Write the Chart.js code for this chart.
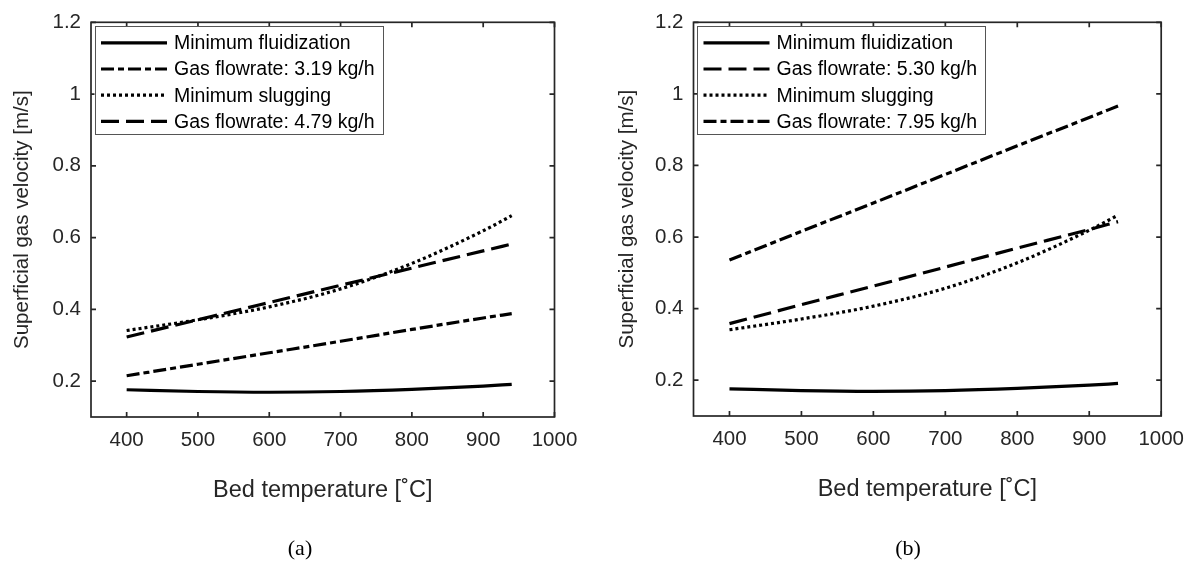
<!DOCTYPE html>
<html><head><meta charset="utf-8">
<script src="https://cdn.jsdelivr.net/npm/chart.js@4.4.1/dist/chart.umd.min.js"></script>
<style>
html,body{margin:0;padding:0;background:#fff;}
#wrap{position:relative;width:1195px;height:569px;overflow:hidden;background:#fff;}
canvas{position:absolute;top:0;}
.cap{position:absolute;font-family:"Liberation Serif","Times New Roman",serif;font-size:22px;color:#000;transform:translateX(-50%);line-height:24px;}
</style></head><body>
<div id="wrap">
<canvas id="c1" width="600" height="569" style="left:0"></canvas>
<canvas id="c2" width="595" height="569" style="left:600px"></canvas>
<div class="cap" style="left:300px;top:536px">(a)</div>
<div class="cap" style="left:908px;top:536px">(b)</div>
</div>
<script>
// ---- data ----
const temps = [400, 500, 600, 700, 800, 900, 940];
const minFluid = [0.176, 0.171, 0.169, 0.171, 0.177, 0.186, 0.191];
const minSlug = [0.341, 0.371, 0.407, 0.457, 0.528, 0.619, 0.661];
const gas319 = [0.215, 0.247, 0.279, 0.311, 0.344, 0.376, 0.388];
const gas479 = [0.323, 0.371, 0.419, 0.467, 0.515, 0.563, 0.582];
const gas530 = [0.358, 0.411, 0.463, 0.516, 0.569, 0.621, 0.643];
const gas795 = [0.536, 0.616, 0.695, 0.775, 0.855, 0.934, 0.966];
const xTicks = [400, 500, 600, 700, 800, 900, 1000];
const yTicks = [0.2, 0.4, 0.6, 0.8, 1.0, 1.2];
const labelsA = ['Minimum fluidization', 'Gas flowrate: 3.19 kg/h', 'Minimum slugging', 'Gas flowrate: 4.79 kg/h'];
const labelsB = ['Minimum fluidization', 'Gas flowrate: 5.30 kg/h', 'Minimum slugging', 'Gas flowrate: 7.95 kg/h'];
const xTitle = 'Bed temperature [\u02DAC]';
const yTitle = 'Superficial gas velocity [m/s]';

const SOLID = [], DASH = [18, 7], DOT = [3, 3], DASHDOT = [13, 4, 6, 4];
const AX = '#262626';
const FONT = '"Liberation Sans", Arial, Helvetica, sans-serif';

function pts(ys){ return temps.map((t,i)=>({x:t, y:ys[i]})); }
function ds(label, ys, dash){
  return {label, data: pts(ys), borderColor:'#000', borderWidth:3.2, borderDash:dash,
    borderCapStyle:'butt', pointRadius:0, fill:false, cubicInterpolationMode:'monotone'};
}

const framePlugin = {
  id:'frame',
  afterDatasetsDraw(chart){
    const {ctx, chartArea:a, scales:{x, y}} = chart;
    ctx.save();
    ctx.strokeStyle = AX; ctx.lineWidth = 1.7; ctx.setLineDash([]);
    ctx.strokeRect(a.left, a.top, a.right-a.left, a.bottom-a.top);
    const L = 5;
    ctx.beginPath();
    xTicks.forEach(v=>{ const px = x.getPixelForValue(v);
      ctx.moveTo(px, a.bottom); ctx.lineTo(px, a.bottom-L);
      ctx.moveTo(px, a.top); ctx.lineTo(px, a.top+L); });
    yTicks.forEach(v=>{ const py = y.getPixelForValue(v);
      ctx.moveTo(a.left, py); ctx.lineTo(a.left+L, py);
      ctx.moveTo(a.right, py); ctx.lineTo(a.right-L, py); });
    ctx.stroke();
    ctx.restore();
  }
};

const legendPlugin = {
  id:'boxLegend',
  afterDraw(chart){
    const {ctx, chartArea:a} = chart;
    const dsets = chart.data.datasets;
    ctx.save();
    ctx.font = '19.5px ' + FONT;
    let maxW = 0;
    dsets.forEach(d=>{ maxW = Math.max(maxW, ctx.measureText(d.label).width); });
    const bx = a.left + 3.5, by = a.top + 4;
    const textX = a.left + 83;
    const bw = textX + maxW + 8 - bx, bh = 108;
    ctx.fillStyle = '#fff';
    ctx.fillRect(bx, by, bw, bh);
    ctx.strokeStyle = '#555'; ctx.lineWidth = 1; ctx.setLineDash([]);
    ctx.strokeRect(Math.round(bx)+0.5, Math.round(by)+0.5, Math.round(bw), Math.round(bh));
    dsets.forEach((d,i)=>{
      const cy = a.top + 20.5 + 26.2*i;
      ctx.beginPath();
      ctx.setLineDash(d.borderDash); ctx.lineWidth = 3.2; ctx.lineCap = 'butt'; ctx.strokeStyle = '#000';
      ctx.moveTo(a.left + 10, cy); ctx.lineTo(a.left + 76, cy); ctx.stroke();
      ctx.setLineDash([]);
      ctx.fillStyle = '#000'; ctx.textBaseline = 'middle'; ctx.textAlign = 'left';
      ctx.fillText(d.label, textX, cy + 1);
    });
    ctx.restore();
  }
};

function makeChart(id, cfg){
  const H = 569;
  return new Chart(document.getElementById(id), {
    type:'line',
    data:{ datasets: cfg.datasets },
    options:{
      responsive:false, animation:false, devicePixelRatio:1,
      layout:{ padding:{ left:0, top:cfg.top, right:cfg.width-cfg.right, bottom:0 } },
      plugins:{ legend:{display:false}, tooltip:{enabled:false} },
      scales:{
        x:{ type:'linear', min:350, max:1000,
          afterBuildTicks: s=>{ s.ticks = xTicks.map(v=>({value:v})); },
          afterFit: s=>{ s.height = H - cfg.bottom; },
          grid:{display:false, drawTicks:false}, border:{display:false},
          ticks:{ color:AX, font:{family:FONT, size:20.5}, padding:11, maxRotation:0, autoSkip:false,
            callback: v=>String(v) },
          title:{ display:true, text:xTitle, color:AX, font:{family:FONT, size:23.5},
            padding:{top:0, bottom:cfg.xtitlePad} }
        },
        y:{ type:'linear', min:0.1, max:1.2,
          afterBuildTicks: s=>{ s.ticks = yTicks.map(v=>({value:v})); },
          afterFit: s=>{ s.width = cfg.left; },
          grid:{display:false, drawTicks:false}, border:{display:false},
          ticks:{ color:AX, font:{family:FONT, size:20.5}, padding:10, autoSkip:false,
            callback: v=>String(Math.round(v*10)/10) },
          title:{ display:true, text:yTitle, color:AX, font:{family:FONT, size:20.5},
            padding:{top:cfg.ytitlePad, bottom:0} }
        }
      }
    },
    plugins:[framePlugin, legendPlugin]
  });
}

makeChart('c1', { width:600, left:91, right:554.5, top:15.5, bottom:417, ytitlePad:10, xtitlePad:64,
  datasets:[ ds(labelsA[0], minFluid, SOLID), ds(labelsA[1], gas319, DASHDOT),
             ds(labelsA[2], minSlug, DOT), ds(labelsA[3], gas479, DASH) ] });
makeChart('c2', { width:595, left:93.5, right:563, top:14.5, bottom:416, ytitlePad:15, xtitlePad:65,
  datasets:[ ds(labelsB[0], minFluid, SOLID), ds(labelsB[1], gas530, DASH),
             ds(labelsB[2], minSlug, DOT), ds(labelsB[3], gas795, DASHDOT) ] });
</script>
</body></html>
